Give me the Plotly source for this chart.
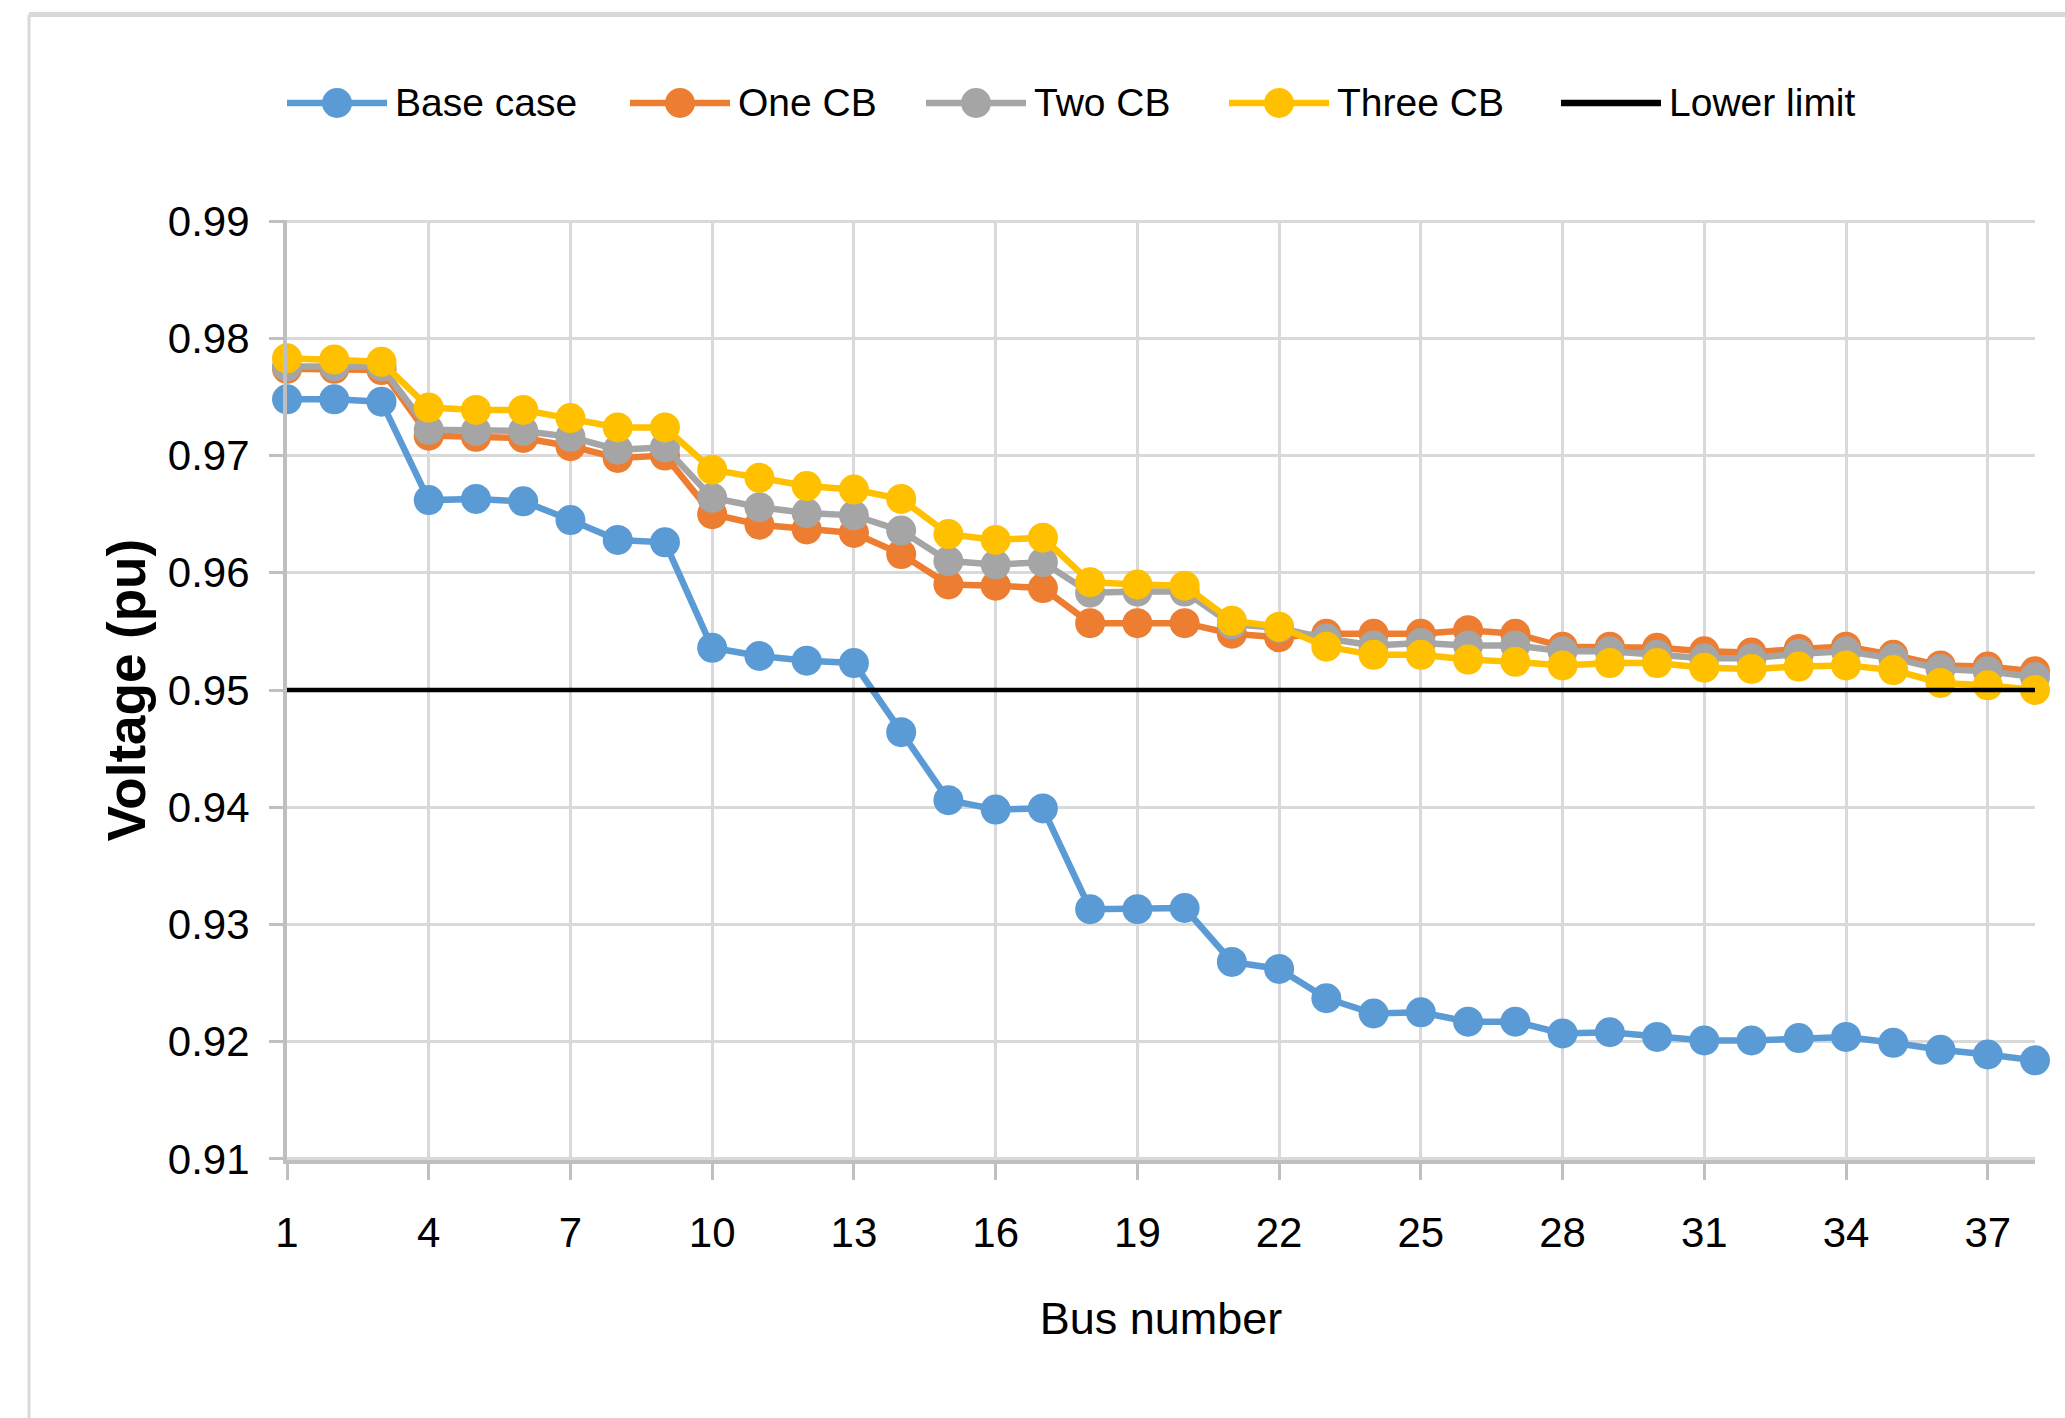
import plotly.graph_objects as go

# Bus voltage profile of the feeder for different capacitor bank (CB) placements
bus = list(range(1, 39))

base_case = [0.9748, 0.9748, 0.9746, 0.9662, 0.9663, 0.9661, 0.9645, 0.9628, 0.9626, 0.9536,
             0.9529, 0.9525, 0.9523, 0.9464, 0.9406, 0.9398, 0.9399, 0.9313, 0.9313, 0.9314,
             0.9268, 0.9262, 0.9237, 0.9224, 0.9225, 0.9217, 0.9217, 0.9207, 0.9208, 0.9204,
             0.9201, 0.9201, 0.9203, 0.9204, 0.9199, 0.9193, 0.9189, 0.9184]

one_cb = [0.9774, 0.9774, 0.9773, 0.9717, 0.9716, 0.9715, 0.9708, 0.9698, 0.9700, 0.9650,
          0.9641, 0.9637, 0.9634, 0.9616, 0.9590, 0.9589, 0.9587, 0.9557, 0.9557, 0.9557,
          0.9548, 0.9545, 0.9548, 0.9548, 0.9548, 0.9551, 0.9548, 0.9537, 0.9537, 0.9536,
          0.9533, 0.9532, 0.9535, 0.9537, 0.9530, 0.9521, 0.9520, 0.9516]

two_cb = [0.9776, 0.9776, 0.9776, 0.9722, 0.9721, 0.9721, 0.9716, 0.9705, 0.9707, 0.9664,
          0.9656, 0.9651, 0.9649, 0.9636, 0.9610, 0.9607, 0.9609, 0.9583, 0.9584, 0.9584,
          0.9556, 0.9553, 0.9544, 0.9538, 0.9540, 0.9538, 0.9538, 0.9533, 0.9533, 0.9530,
          0.9527, 0.9527, 0.9531, 0.9533, 0.9527, 0.9518, 0.9516, 0.9511]

three_cb = [0.9783, 0.9782, 0.9780, 0.9741, 0.9739, 0.9739, 0.9732, 0.9724, 0.9724, 0.9688,
            0.9681, 0.9674, 0.9671, 0.9663, 0.9633, 0.9628, 0.9630, 0.9592, 0.9590, 0.9589,
            0.9559, 0.9554, 0.9537, 0.9530, 0.9530, 0.9526, 0.9524, 0.9521, 0.9523, 0.9523,
            0.9519, 0.9518, 0.9520, 0.9521, 0.9517, 0.9506, 0.9504, 0.9500]

lower_limit_pu = 0.95
lower_limit = [lower_limit_pu] * len(bus)

series_names = ["Base case", "One CB", "Two CB", "Three CB", "Lower limit"]
series_values = [base_case, one_cb, two_cb, three_cb, lower_limit]
series_colors = ["#5B9BD5", "#ED7D31", "#A5A5A5", "#FFC000", "#000000"]

x_title = "Bus number"
y_title = "Voltage (pu)"

# ---- layout geometry (pixels) ----
W, H = 2065, 1418
L, R, T, B = 287, 2035, 220, 1160


def px(x):
    return (x - L) / (R - L)


def py(y):
    return (B - y) / (B - T)


FONT = "Liberation Sans, Arial, sans-serif"
GRID = "#d9d9d9"
AXIS = "#bfbfbf"

fig = go.Figure()

for name, vals, col in zip(series_names, series_values, series_colors):
    if name == "Lower limit":
        fig.add_trace(go.Scatter(x=bus, y=vals, mode="lines", name=name,
                                 line=dict(color=col, width=4.5), cliponaxis=False))
    else:
        fig.add_trace(go.Scatter(x=bus, y=vals, mode="lines+markers", name=name,
                                 line=dict(color=col, width=6.5),
                                 marker=dict(color=col, size=30, line=dict(width=0)),
                                 cliponaxis=False))

shapes = []
annotations = []

# legend row across the top
leg_y = 103
leg_starts = [287, 630, 926, 1229, 1561]
sym_len = 100
for name, col, x0 in zip(series_names, series_colors, leg_starts):
    shapes.append(dict(type="line", xref="paper", yref="paper",
                       x0=px(x0), x1=px(x0 + sym_len), y0=py(leg_y), y1=py(leg_y),
                       line=dict(color=col, width=6.5)))
    if name != "Lower limit":
        shapes.append(dict(type="circle", xref="paper", yref="paper",
                           xsizemode="pixel", ysizemode="pixel",
                           xanchor=px(x0 + sym_len / 2), yanchor=py(leg_y),
                           x0=-15, x1=15, y0=-15, y1=15,
                           fillcolor=col, line=dict(width=0)))
    annotations.append(dict(text=name, xref="paper", yref="paper",
                            x=px(x0 + sym_len + 6), y=py(leg_y),
                            xanchor="left", yanchor="middle", showarrow=False,
                            font=dict(family=FONT, size=39, color="#000000")))

# outer frame lines of the chart area
shapes.append(dict(type="line", xref="paper", yref="paper",
                   x0=px(29), x1=px(W), y0=py(14.5), y1=py(14.5),
                   line=dict(color=GRID, width=5)))
shapes.append(dict(type="line", xref="paper", yref="paper",
                   x0=px(29), x1=px(29), y0=py(14.5), y1=py(H),
                   line=dict(color=GRID, width=3)))

fig.update_layout(
    width=W, height=H,
    margin=dict(l=L, r=W - R, t=T, b=H - B),
    paper_bgcolor="white", plot_bgcolor="white",
    showlegend=False,
    shapes=shapes, annotations=annotations,
    font=dict(family=FONT, color="#000000"),
)

fig.update_xaxes(
    range=[0.9999, 38], tickmode="linear", tick0=1, dtick=3,
    showgrid=True, gridcolor=GRID, gridwidth=3, zeroline=False,
    showline=True, linecolor=AXIS, linewidth=4,
    ticks="outside", ticklen=16, tickwidth=3, tickcolor=AXIS,
    tickfont=dict(family=FONT, size=42, color="#000000"),
    ticklabelstandoff=17,
    title=dict(text=x_title, font=dict(family=FONT, size=45, color="#000000"), standoff=48),
)

fig.update_yaxes(
    range=[0.9099, 0.9901], tickmode="linear", tick0=0.91, dtick=0.01, tickformat=".2f",
    showgrid=True, gridcolor=GRID, gridwidth=3, zeroline=False,
    showline=True, linecolor=AXIS, linewidth=4,
    ticks="outside", ticklen=14, tickwidth=3, tickcolor=AXIS,
    tickfont=dict(family=FONT, size=42, color="#000000"),
    ticklabelstandoff=11,
    title=dict(text="<b>" + y_title + "</b>",
               font=dict(family=FONT, size=53, color="#000000"),
               standoff=6),
)

fig.write_html("out.html")
